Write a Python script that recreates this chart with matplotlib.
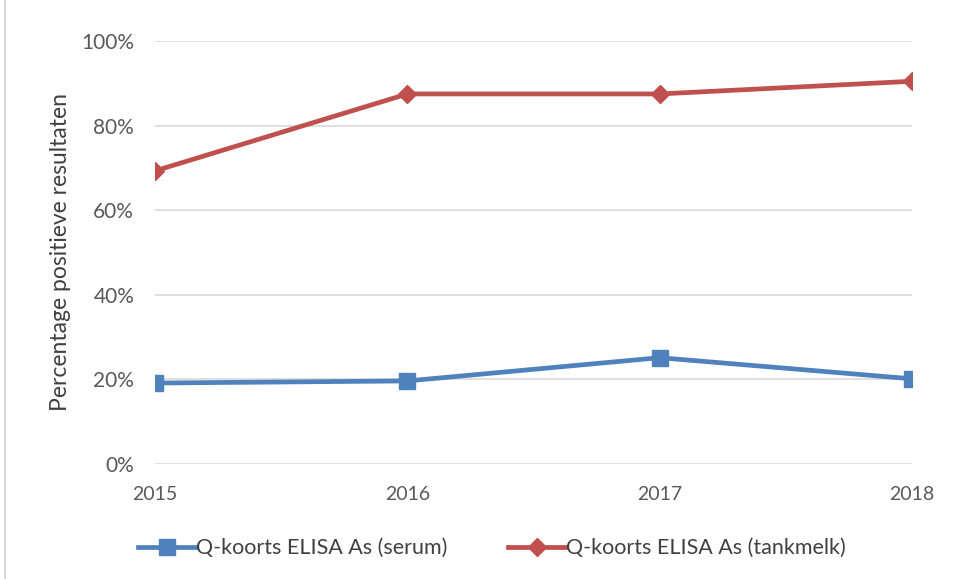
import matplotlib.pyplot as plt
from matplotlib.lines import Line2D
from matplotlib.ticker import FuncFormatter

plt.rcParams['font.family'] = ['Lato', 'DejaVu Sans']

jaren = [2015, 2016, 2017, 2018]
serum = [19.1, 19.6, 25.1, 20.1]
tankmelk = [69.3, 87.5, 87.5, 90.5]

fig = plt.figure(figsize=(9.54, 5.79), dpi=100)
ax = fig.add_axes([0.1625, 0.199, 0.7935, 0.73])

ax.plot(jaren, serum, color='#4f81bd', lw=3.4, marker='s', markersize=11,
        label='Q-koorts ELISA As (serum)')
ax.plot(jaren, tankmelk, color='#c0504d', lw=3.4, marker='D', markersize=9,
        label='Q-koorts ELISA As (tankmelk)')

ax.set_xlim(2015, 2018)
ax.set_ylim(0, 100)
ax.set_xticks(jaren)
ax.set_yticks(range(0, 101, 20))
ax.yaxis.set_major_formatter(FuncFormatter(lambda v, p: f'{v:.0f}%'))
ax.grid(axis='y', color='#d9d9d9', lw=1.2)
ax.set_axisbelow(True)
for s in ax.spines.values():
    s.set_visible(False)
ax.tick_params(axis='x', length=0, labelsize=14, colors='#595959', pad=16)
ax.tick_params(axis='y', length=0, labelsize=15, colors='#595959', pad=15)
ax.set_ylabel('Percentage positieve resultaten', fontsize=16.5, color='#404040', labelpad=7)

ax.legend(loc='upper center', bbox_to_anchor=(0.445, -0.13), ncol=2, frameon=False,
          fontsize=15.5, handlelength=2.7, handletextpad=0.0, columnspacing=2.8,
          labelcolor='#404040')

fig.add_artist(Line2D([5 / 954, 5 / 954], [0, 1], color='#d9d9d9', lw=1.5))

fig.savefig('out.png')
